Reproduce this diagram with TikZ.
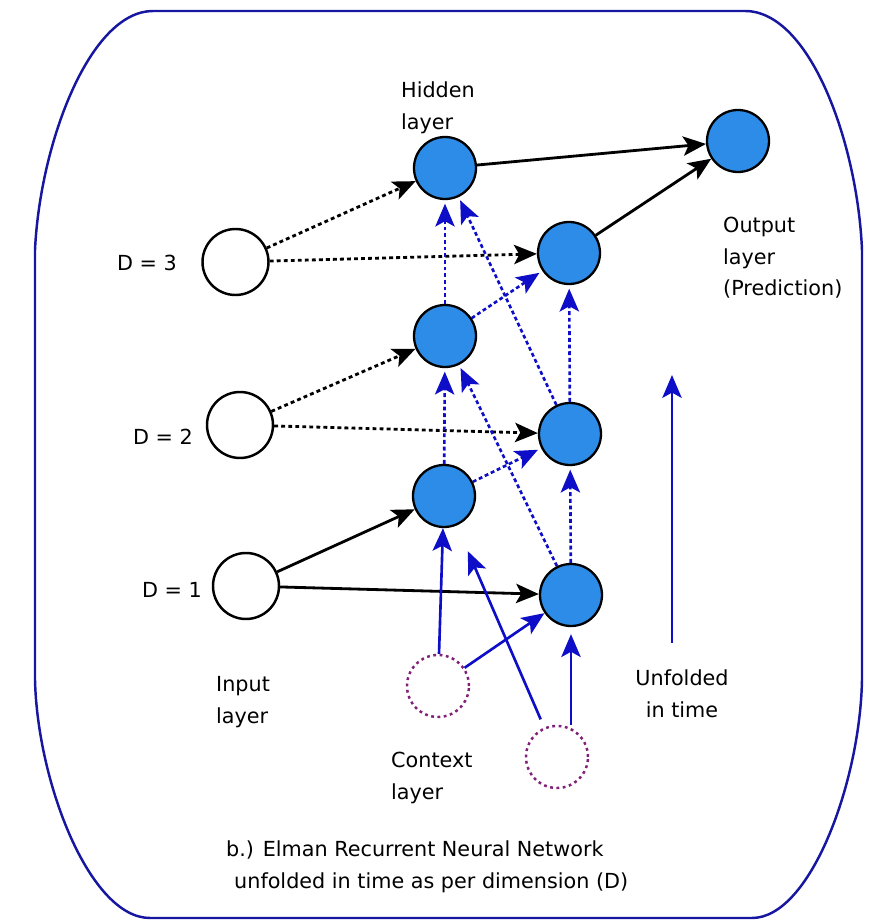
\documentclass[tikz,border=0pt]{standalone}
\usepackage{fontspec}
\setmainfont{DejaVu Sans}
\usepackage{tikz}
\usetikzlibrary{arrows.meta, positioning}
\usepackage{xcolor}
\definecolor{unitfill}{RGB}{44, 140, 232}
\definecolor{recur}{RGB}{14, 14, 200}
\definecolor{frameline}{RGB}{22, 22, 160}
\definecolor{ctxpurple}{RGB}{128, 32, 118}

\begin{document}
\begin{tikzpicture}[
  font=\fontsize{11.8}{18}\selectfont,
  unit/.style={circle, draw=black, line width=1.3pt, fill=unitfill, minimum size=1.24cm, inner sep=0pt},
  inunit/.style={circle, draw=black, line width=1.4pt, fill=white, minimum size=1.32cm, inner sep=0pt},
  ctxunit/.style={circle, draw=ctxpurple, line width=1.4pt, dash pattern=on 1.6pt off 2pt, minimum size=1.24cm, inner sep=0pt},
  arrowhd/.style={-{Stealth[length=13pt, width=11pt, inset=3pt]}},
  ff/.style={arrowhd, black, line width=1.6pt},
  ffdot/.style={ff, dash pattern=on 2.2pt off 1.8pt},
  rec/.style={arrowhd, recur, line width=1.5pt},
  recdot/.style={rec, dash pattern=on 2.2pt off 1.6pt, shorten >=2pt},
  lbl/.style={align=left, anchor=west}
]
  \useasboundingbox (0,0) rectangle (17.52,18.46);

  % outer frame
  \draw[frameline, line width=1.4pt] (3.06,18.24) -- (14.90,18.24)
    .. controls (16.2,18.24) and (17.15,15.6) .. (17.24,13.46) -- (17.24,4.86)
    .. controls (17.2,2.8) and (16.2,0.10) .. (15.04,0.10) -- (3.00,0.10)
    .. controls (1.8,0.10) and (0.75,2.8) .. (0.70,4.86) -- (0.70,13.46)
    .. controls (0.8,15.6) and (1.8,18.24) .. (3.06,18.24) -- cycle;

  % hidden units, two time steps
  \node[unit] (h3) at (8.90,15.10) {};
  \node[unit] (h2) at (8.90,11.74) {};
  \node[unit] (h1) at (8.88,8.54) {};
  \node[unit] (a3) at (11.38,13.40) {};
  \node[unit] (a2) at (11.40,9.78) {};
  \node[unit] (a1) at (11.42,6.56) {};
  \node[unit] (out) at (14.76,15.64) {};

  % inputs and context
  \node[inunit] (d3) at (4.71,13.22) {};
  \node[inunit] (d2) at (4.80,9.96) {};
  \node[inunit] (d1) at (4.92,6.74) {};
  \node[ctxunit] (c1) at (8.76,4.74) {};
  \node[ctxunit] (c2) at (11.14,3.32) {};

  % feed-forward connections
  \draw[ffdot] (d3) -- (h3);
  \draw[ffdot] (d3) -- (a3);
  \draw[ffdot] (d2) -- (h2);
  \draw[ffdot] (d2) -- (a2);
  \draw[ff] (d1) -- (h1);
  \draw[ff] (d1) -- (a1);
  \draw[ff] (h3) -- (out);
  \draw[ff] (a3) -- (out);

  % recurrent links
  \draw[recdot] (h1) -- (h2);
  \draw[recdot] (h2) -- (h3);
  \draw[recdot] (a1) -- (a2);
  \draw[recdot] (a2) -- (a3);
  \draw[recdot] (h1) -- (a2);
  \draw[recdot] (h2) -- (a3);
  \draw[recdot] (a1) -- (h2);
  \draw[recdot] (a2) -- (h3);

  % context to hidden
  \draw[rec] (c1) -- (h1);
  \draw[rec] (c1) -- (a1);
  \draw[rec, shorten <=5pt, shorten >=16pt] (c2) -- (h1);
  \draw[rec, shorten >=4pt] (a1 |- c2.north) -- (a1);

  % time direction
  \coordinate (tbase) at (13.44,5.60);
  \coordinate (ttop) at (13.44,10.96);
  \draw[rec] (tbase) -- (ttop);

  \node[lbl] (hidlbl) at (7.90,16.30) {Hidden\\layer};
  \node (d3lbl) at (2.94,13.20) {D = 3};
  \node (d2lbl) at (3.26,9.72) {D = 2};
  \node (d1lbl) at (3.44,6.66) {D = 1};
  \node[lbl] (outlbl) at (14.34,13.30) {Output\\layer\\(Prediction)};
  \node[lbl] (inlbl) at (4.20,4.42) {Input\\layer};
  \node[lbl] (ctxlbl) at (7.70,2.90) {Context\\layer};
  \node[align=center] (timelbl) at (13.64,4.58) {Unfolded\\in time};
  \node[lbl] (caption) at (4.40,1.12) {b.) Elman Recurrent Neural Network\\\hspace*{0.16cm}unfolded in time as per dimension (D)};
\end{tikzpicture}
\end{document}
